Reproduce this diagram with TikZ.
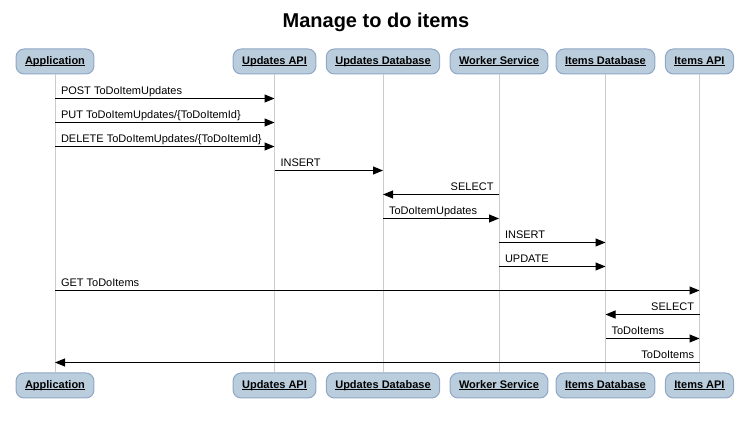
\documentclass[tikz,border=0pt]{standalone}
\usepackage{fontspec}
\setmainfont{Liberation Sans}
\usetikzlibrary{arrows.meta}
\newsavebox\ulsave
\newcommand\ulname[1]{\sbox\ulsave{#1}\rlap{\usebox\ulsave}\rule[-1.6pt]{\wd\ulsave}{0.9pt}}
\tikzset{
    actor/.style={shape=rectangle, rounded corners=8pt, draw={rgb,255:red,143;green,166;blue,198}, fill={rgb,255:red,186;green,205;blue,220}, line width=1pt, inner xsep=9pt, inner ysep=0pt, minimum height=25pt, font=\fontsize{11}{13}\selectfont\bfseries},
    lifeline/.style={draw={rgb,255:red,204;green,204;blue,204}, line width=1pt},
    msg/.style={line width=1pt, -{Triangle[length=10pt, width=8pt]}},
    msgtext/.style={inner sep=0, font=\fontsize{11}{13}\selectfont},
}
\begin{document}
\begin{tikzpicture}[x=1pt, y=-1pt]
        \useasboundingbox (0, 0) rectangle (748, 422);
        % Title:
        \node[inner sep=0, font=\fontsize{20}{24}\selectfont\bfseries](Title) at (376, 22){Manage to do items};
        % Participants, top and bottom:
        \node[actor](App) at (55, 61.5){\ulname{Application}};
        \node[actor](UpdApi) at (274.5, 61.5){\ulname{Updates API}};
        \node[actor](UpdDb) at (383, 61.5){\ulname{Updates Database}};
        \node[actor](Worker) at (499, 61.5){\ulname{Worker Service}};
        \node[actor](ItemsDb) at (605.5, 61.5){\ulname{Items Database}};
        \node[actor](ItemsApi) at (699.5, 61.5){\ulname{Items API}};
        \node[actor](AppB) at (55, 385.5){\ulname{Application}};
        \node[actor](UpdApiB) at (274.5, 385.5){\ulname{Updates API}};
        \node[actor](UpdDbB) at (383, 385.5){\ulname{Updates Database}};
        \node[actor](WorkerB) at (499, 385.5){\ulname{Worker Service}};
        \node[actor](ItemsDbB) at (605.5, 385.5){\ulname{Items Database}};
        \node[actor](ItemsApiB) at (699.5, 385.5){\ulname{Items API}};
        % Lifelines:
        \draw[lifeline] (App) -- (AppB);
        \draw[lifeline] (UpdApi) -- (UpdApiB);
        \draw[lifeline] (UpdDb) -- (UpdDbB);
        \draw[lifeline] (Worker) -- (WorkerB);
        \draw[lifeline] (ItemsDb) -- (ItemsDbB);
        \draw[lifeline] (ItemsApi) -- (ItemsApiB);
        % Message rows:
        \coordinate (M1) at (0, 98.5);
        \coordinate (M2) at (0, 122.5);
        \coordinate (M3) at (0, 146.5);
        \coordinate (M4) at (0, 170.5);
        \coordinate (M5) at (0, 194.5);
        \coordinate (M6) at (0, 218.5);
        \coordinate (M7) at (0, 242.5);
        \coordinate (M8) at (0, 266.5);
        \coordinate (M9) at (0, 290.5);
        \coordinate (M10) at (0, 314.5);
        \coordinate (M11) at (0, 338.5);
        \coordinate (M12) at (0, 362.5);
        % Messages:
        \draw[msg] (App |- M1) -- (UpdApi |- M1) node[msgtext, pos=0, anchor=base west, xshift=5.5pt, yshift=3.5pt]{POST ToDoItemUpdates};
        \draw[msg] (App |- M2) -- (UpdApi |- M2) node[msgtext, pos=0, anchor=base west, xshift=5.5pt, yshift=3.5pt]{PUT ToDoItemUpdates/\{ToDoItemId\}};
        \draw[msg] (App |- M3) -- (UpdApi |- M3) node[msgtext, pos=0, anchor=base west, xshift=5.5pt, yshift=3.5pt]{DELETE ToDoItemUpdates/\{ToDoItemId\}};
        \draw[msg] (UpdApi |- M4) -- (UpdDb |- M4) node[msgtext, pos=0, anchor=base west, xshift=5.5pt, yshift=3.5pt]{INSERT};
        \draw[msg] (Worker |- M5) -- (UpdDb |- M5) node[msgtext, pos=0, anchor=base east, xshift=-5pt, yshift=3.5pt]{SELECT};
        \draw[msg] (UpdDb |- M6) -- (Worker |- M6) node[msgtext, pos=0, anchor=base west, xshift=5.5pt, yshift=3.5pt]{ToDoItemUpdates};
        \draw[msg] (Worker |- M7) -- (ItemsDb |- M7) node[msgtext, pos=0, anchor=base west, xshift=5.5pt, yshift=3.5pt]{INSERT};
        \draw[msg] (Worker |- M8) -- (ItemsDb |- M8) node[msgtext, pos=0, anchor=base west, xshift=5.5pt, yshift=3.5pt]{UPDATE};
        \draw[msg] (App |- M9) -- (ItemsApi |- M9) node[msgtext, pos=0, anchor=base west, xshift=5.5pt, yshift=3.5pt]{GET ToDoItems};
        \draw[msg] (ItemsApi |- M10) -- (ItemsDb |- M10) node[msgtext, pos=0, anchor=base east, xshift=-5pt, yshift=3.5pt]{SELECT};
        \draw[msg] (ItemsDb |- M11) -- (ItemsApi |- M11) node[msgtext, pos=0, anchor=base west, xshift=5.5pt, yshift=3.5pt]{ToDoItems};
        \draw[msg] (ItemsApi |- M12) -- (App |- M12) node[msgtext, pos=0, anchor=base east, xshift=-5pt, yshift=3.5pt]{ToDoItems};
    \end{tikzpicture}
\end{document}
